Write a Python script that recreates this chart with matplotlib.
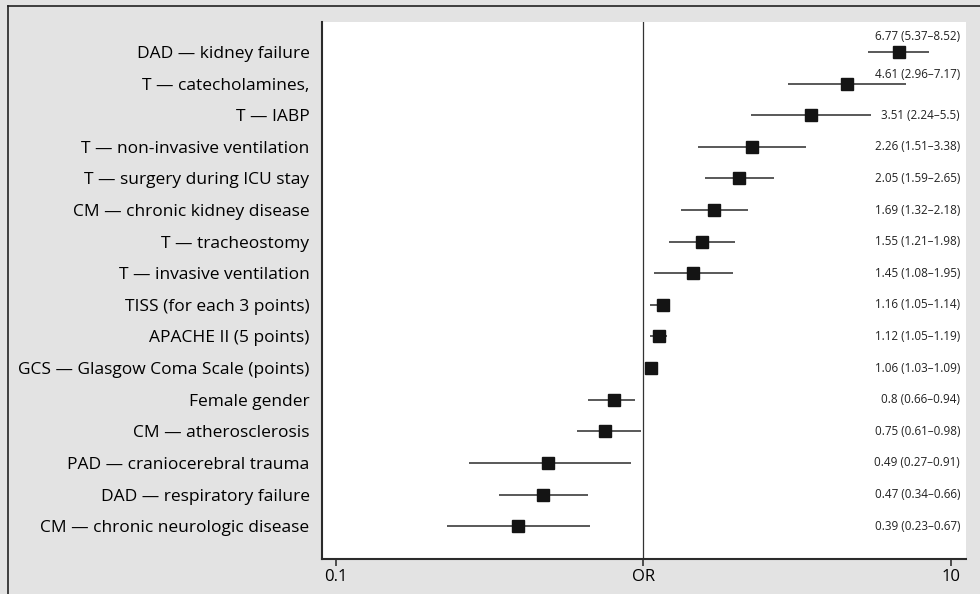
import numpy as np
import matplotlib
matplotlib.use("Agg")
import matplotlib.pyplot as plt
from matplotlib.lines import Line2D

# filas del forest plot, de arriba hacia abajo
etiquetas = [
    "DAD — kidney failure",
    "T — catecholamines,",
    "T — IABP",
    "T — non-invasive ventilation",
    "T — surgery during ICU stay",
    "CM — chronic kidney disease",
    "T — tracheostomy",
    "T — invasive ventilation",
    "TISS (for each 3 points)",
    "APACHE II (5 points)",
    "GCS — Glasgow Coma Scale (points)",
    "Female gender",
    "CM — atherosclerosis",
    "PAD — craniocerebral trauma",
    "DAD — respiratory failure",
    "CM — chronic neurologic disease",
]
odds = [6.77, 4.61, 3.51, 2.26, 2.05, 1.69, 1.55, 1.45, 1.16, 1.12, 1.06, 0.8, 0.75, 0.49, 0.47, 0.39]
ic_bajo = [5.37, 2.96, 2.24, 1.51, 1.59, 1.32, 1.21, 1.08, 1.05, 1.05, 1.03, 0.66, 0.61, 0.27, 0.34, 0.23]
ic_alto = [8.52, 7.17, 5.5, 3.38, 2.65, 2.18, 1.98, 1.95, 1.14, 1.19, 1.09, 0.94, 0.98, 0.91, 0.66, 0.67]
textos = ["6.77 (5.37–8.52)", "4.61 (2.96–7.17)", "3.51 (2.24–5.5)", "2.26 (1.51–3.38)",
          "2.05 (1.59–2.65)", "1.69 (1.32–2.18)", "1.55 (1.21–1.98)", "1.45 (1.08–1.95)",
          "1.16 (1.05–1.14)", "1.12 (1.05–1.19)", "1.06 (1.03–1.09)", "0.8 (0.66–0.94)",
          "0.75 (0.61–0.98)", "0.49 (0.27–0.91)", "0.47 (0.34–0.66)", "0.39 (0.23–0.67)"]

plt.rcParams['font.family'] = ['Open Sans', 'DejaVu Sans']

fondo = "#e3e3e3"
fig = plt.figure(figsize=(9.8, 5.94), dpi=100, facecolor=fondo)
ax = fig.add_axes([0.3286, 0.0589, 0.6571, 0.9041])
ax.set_facecolor("white")

y = np.arange(len(etiquetas))
# lineas de intervalo de confianza
ax.hlines(y, ic_bajo, ic_alto, color="#2b2b2b", lw=1.1, zorder=2)
ax.plot(odds, y, "s", color="#141414", markersize=8, zorder=3)

# linea de referencia en OR = 1
ax.axvline(1, color="#333333", lw=0.9, zorder=1)

ax.set_xscale("log")
ax.set_xlim(0.09, 11.2)
ax.set_ylim(len(etiquetas) - 1 + 1.04, -0.95)

ax.set_xticks([0.1, 1, 10])
ax.set_xticklabels(["0.1", "OR", "10"], fontsize=12)
ax.xaxis.set_minor_locator(matplotlib.ticker.NullLocator())
ax.tick_params(axis="x", length=5, width=1.2, color="#333333", pad=2)

ax.set_yticks(y)
ax.set_yticklabels(etiquetas, fontsize=12.5)
ax.tick_params(axis="y", length=0, pad=9)

for lado in ["top", "right"]:
    ax.spines[lado].set_visible(False)
for lado in ["left", "bottom"]:
    ax.spines[lado].set_color("#2b2b2b")
    ax.spines[lado].set_linewidth(1.5)

# textos a la derecha, los dos primeros un poco arriba para no pisar la linea
desplazamiento = [0.5, 0.3] + [0] * (len(etiquetas) - 2)
trans = matplotlib.transforms.blended_transform_factory(fig.transFigure, ax.transData)
for i, t in enumerate(textos):
    ax.text(960 / 980, y[i] - desplazamiento[i], t, transform=trans,
            ha="right", va="center", fontsize=8.4, color="#222222")

# borde del recuadro (solo izquierda y arriba se ven)
fig.add_artist(Line2D([8 / 980, 8 / 980], [0, 1 - 6 / 594], transform=fig.transFigure,
                      color="#222222", lw=1.2))
fig.add_artist(Line2D([8 / 980, 1], [1 - 6 / 594, 1 - 6 / 594], transform=fig.transFigure,
                      color="#222222", lw=1.2))

fig.savefig("out.png", dpi=100, facecolor=fondo)
